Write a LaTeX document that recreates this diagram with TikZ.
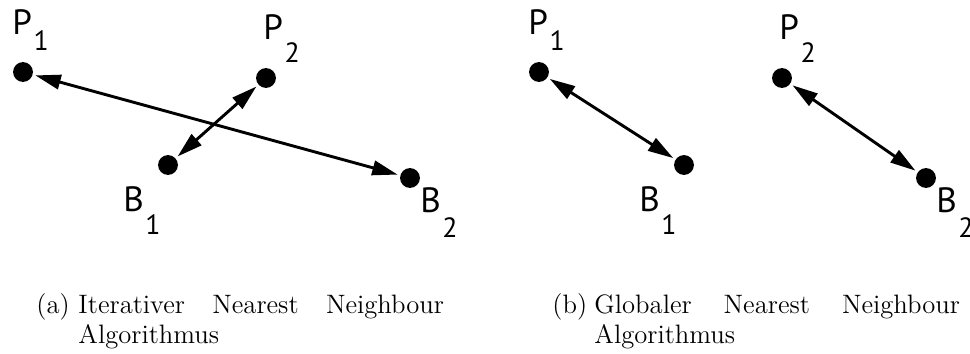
\documentclass[tikz,border=0pt]{standalone}
\usepackage{fontspec}
\newfontfamily\labelfont{PT Sans}
\usetikzlibrary{arrows.meta}

% point name with lowered index
\newcommand\ptlabel[3][8.5pt]{#2\kern0.6pt\raisebox{-#1}{\fontsize{11.5}{12}\selectfont #3}}

\tikzset{
  dot/.style={circle,fill,inner sep=0pt,minimum size=8.2pt},
  ptname/.style={anchor=base west,inner sep=0pt,font=\labelfont\fontsize{14.5}{15}\selectfont},
  pair/.style={{Triangle[length=10.5pt,width=6pt]}-{Triangle[length=10.5pt,width=6pt]},line width=1.2pt,shorten <=1pt,shorten >=1pt},
  subcap/.style={anchor=base west,inner sep=0pt,text width=151pt,align=left,font=\fontsize{11}{12}\selectfont},
  subtag/.style={anchor=base west,inner sep=0pt,font=\fontsize{11}{12}\selectfont}
}

\begin{document}
\begin{tikzpicture}[x=0.413pt,y=-0.413pt]
\useasboundingbox (0,0) rectangle (970,354);

% (a) iterative
\node[dot] (p1a) at (23,72) {};
\node[dot] (p2a) at (266,78) {};
\node[dot] (b1a) at (168,165) {};
\node[dot] (b2a) at (410,178) {};

\node[ptname] (lp1a) at (12,35) {\ptlabel[6.2pt]{P}{1}};
\node[ptname] (lp2a) at (263,40) {\ptlabel[9.1pt]{P}{2}};
\node[ptname] (lb1a) at (123,212) {\ptlabel[9.5pt]{B}{1}};
\node[ptname] (lb2a) at (420,213) {\ptlabel[10.3pt]{B}{2}};

\draw[pair] (p1a) -- (b2a);
\draw[pair] (p2a) -- (b1a);

% (b) global
\node[dot] (p1b) at (539,72) {};
\node[dot] (p2b) at (782,78) {};
\node[dot] (b1b) at (684,165) {};
\node[dot] (b2b) at (926,178) {};

\node[ptname] (lp1b) at (528,35) {\ptlabel[6.2pt]{P}{1}};
\node[ptname] (lp2b) at (779,40) {\ptlabel[9.1pt]{P}{2}};
\node[ptname] (lb1b) at (639,212) {\ptlabel[9.5pt]{B}{1}};
\node[ptname] (lb2b) at (936,213) {\ptlabel[10.3pt]{B}{2}};

\draw[pair] (p1b) -- (b1b);
\draw[pair] (p2b) -- (b2b);

% captions
\node[subtag] (taga) at (36,314) {(a)};
\node[subcap] (capa) at (78,314) {Iterativer\hfill Nearest\hfill Neighbour\\Algorithmus};
\node[subtag] (tagb) at (552,314) {(b)};
\node[subcap] (capb) at (594,314) {Globaler\hfill Nearest\hfill Neighbour\\Algorithmus};

\end{tikzpicture}
\end{document}
